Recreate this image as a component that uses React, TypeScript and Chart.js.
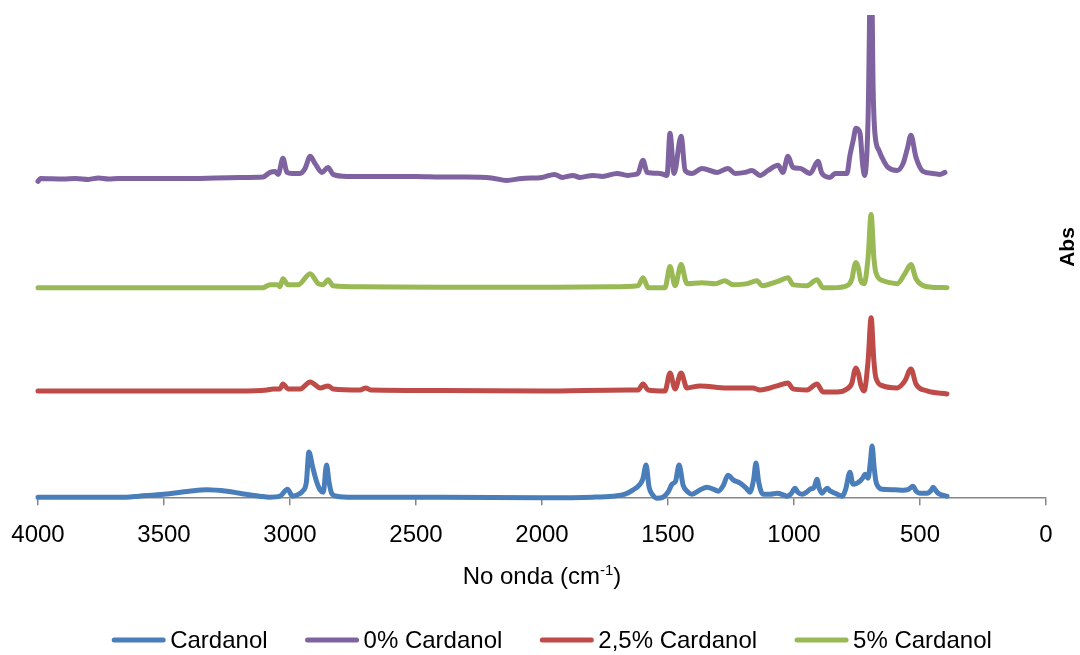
import { useEffect, useRef } from "react";
import { Chart, registerables } from "chart.js";

Chart.register(...registerables);

// ---- Data (wavenumber cm-1, absorbance above each trace's own baseline) ----
const seriesNames = ["Cardanol", "0% Cardanol", "2,5% Cardanol", "5% Cardanol"];
const seriesColors = ["#4A7EBB", "#7F62A0", "#BE4B48", "#98B954"];
const seriesOffsets = [0.01, 3.19, 1.07, 2.1];

const xTickValues = [4000, 3500, 3000, 2500, 2000, 1500, 1000, 500, 0];
const xTickLabels = ["4000", "3500", "3000", "2500", "2000", "1500", "1000", "500", "0"];
const xAxisTitle = "No onda (cm";
const xAxisTitleSup = "-1";
const yAxisTitle = "Abs";

const cardanol: [number, number][] = [
  [4000, 0], [3800, 0], [3650, 0], [3600, 0.01], [3500, 0.03], [3400, 0.06], [3330, 0.075],
  [3250, 0.06], [3190, 0.035], [3120, 0.01], [3080, 0], [3040, 0.01], [3010, 0.08], [2990, 0.01],
  [2965, 0.03], [2950, 0.06], [2935, 0.15], [2925, 0.45], [2910, 0.3], [2895, 0.16], [2880, 0.07],
  [2868, 0.05], [2855, 0.32], [2845, 0.15], [2835, 0.04], [2815, 0.01], [2750, 0], [2400, 0],
  [2000, -0.005], [1800, 0], [1720, 0.01], [1670, 0.03], [1640, 0.07], [1611, 0.13], [1600, 0.18],
  [1587, 0.32], [1575, 0.1], [1560, 0.02], [1545, -0.01], [1520, 0], [1500, 0.05], [1484, 0.13],
  [1470, 0.16], [1456, 0.32], [1440, 0.12], [1420, 0.05], [1405, 0.03], [1375, 0.07], [1345, 0.1],
  [1320, 0.08], [1301, 0.06], [1280, 0.12], [1262, 0.22], [1240, 0.17], [1214, 0.14], [1190, 0.09],
  [1175, 0.05], [1160, 0.18], [1151, 0.34], [1140, 0.15], [1123, 0.03], [1095, 0.03], [1067, 0.04],
  [1040, 0.02], [1028, 0.01], [1010, 0.04], [996, 0.09], [985, 0.05], [968, 0.03], [950, 0.05],
  [936, 0.08], [920, 0.1], [909, 0.18], [900, 0.09], [889, 0.04], [869, 0.09], [855, 0.06],
  [837, 0.04], [820, 0.02], [809, 0.01], [795, 0.08], [778, 0.25], [766, 0.13], [750, 0.14],
  [738, 0.16], [725, 0.2], [718, 0.23], [706, 0.19], [697, 0.35], [690, 0.51], [682, 0.3],
  [675, 0.16], [665, 0.1], [650, 0.08], [600, 0.075], [567, 0.07], [545, 0.08], [528, 0.11],
  [515, 0.06], [500, 0.04], [472, 0.04], [455, 0.07], [448, 0.1], [438, 0.07], [429, 0.04],
  [410, 0.02], [393, 0.01],
];

const pct0: [number, number][] = [
  [4000, -0.03], [3990, 0], [3900, -0.005], [3850, 0], [3800, -0.01], [3760, 0.005], [3720, -0.005],
  [3680, 0], [3600, 0], [3400, 0], [3200, 0.01], [3107, 0.015], [3079, 0.06], [3059, 0.07],
  [3047, 0.04], [3028, 0.2], [3012, 0.06], [2992, 0.05], [2960, 0.05], [2940, 0.1], [2920, 0.22],
  [2901, 0.15], [2873, 0.06], [2849, 0.11], [2829, 0.04], [2774, 0.02], [2722, 0.02], [2600, 0.02],
  [2500, 0.02], [2400, 0.015], [2300, 0.015], [2200, 0.005], [2140, -0.02], [2080, 0], [2000, 0.01],
  [1950, 0.04], [1920, 0.01], [1877, 0.03], [1850, 0.01], [1798, 0.03], [1760, 0.02], [1702, 0.05],
  [1660, 0.03], [1630, 0.04], [1619, 0.05], [1599, 0.18], [1583, 0.06], [1532, 0.05], [1504, 0.03],
  [1492, 0.45], [1476, 0.05], [1448, 0.42], [1432, 0.08], [1405, 0.05], [1365, 0.1], [1305, 0.06],
  [1262, 0.1], [1234, 0.05], [1194, 0.06], [1167, 0.08], [1135, 0.03], [1103, 0.08], [1063, 0.13],
  [1044, 0.06], [1024, 0.22], [1004, 0.11], [976, 0.1], [936, 0.05], [905, 0.17], [889, 0.05],
  [857, 0.01], [837, 0.05], [790, 0.05], [778, 0.23], [765, 0.38], [754, 0.5], [738, 0.45],
  [728, 0.15], [720, 0.03], [706, 0.6], [694, 2.4], [686, 0.9], [679, 0.45], [663, 0.28],
  [643, 0.17], [627, 0.11], [591, 0.08], [567, 0.15], [550, 0.3], [536, 0.43], [516, 0.21],
  [488, 0.07], [448, 0.05], [421, 0.04], [401, 0.06],
];

const pct25: [number, number][] = [
  [4000, 0], [3600, 0], [3300, 0], [3198, 0], [3091, 0.01], [3067, 0.02], [3040, 0.02],
  [3028, 0.07], [3008, 0.02], [2960, 0.02], [2920, 0.09], [2880, 0.03], [2849, 0.05], [2829, 0.02],
  [2722, 0.01], [2700, 0.03], [2680, 0.01], [2400, 0.005], [2000, 0], [1663, 0.01], [1619, 0.01],
  [1599, 0.07], [1579, 0.01], [1512, 0], [1492, 0.18], [1472, 0.02], [1448, 0.18], [1425, 0.03],
  [1373, 0.05], [1266, 0.03], [1163, 0.03], [1135, 0.01], [1067, 0.05], [1024, 0.08], [1004, 0.02],
  [948, 0.01], [909, 0.07], [885, -0.01], [829, -0.01], [790, 0.02], [770, 0.08], [760, 0.2],
  [754, 0.23], [745, 0.18], [735, 0.06], [722, 0], [706, 0.3], [694, 0.73], [683, 0.3], [675, 0.13],
  [647, 0.05], [591, 0.03], [560, 0.1], [536, 0.22], [516, 0.07], [472, 0], [393, -0.03],
];

const pct5: [number, number][] = [
  [4000, 0], [3600, 0], [3300, 0], [3198, 0], [3107, 0], [3079, 0.03], [3047, 0.03], [3040, 0.01],
  [3028, 0.09], [3008, 0.03], [2967, 0.03], [2920, 0.14], [2888, 0.04], [2868, 0.03], [2849, 0.08],
  [2829, 0.02], [2722, 0.01], [2400, 0.005], [1950, 0.005], [1730, 0.01], [1619, 0.02], [1599, 0.1],
  [1579, 0], [1512, 0], [1492, 0.21], [1472, 0.02], [1448, 0.23], [1425, 0.04], [1365, 0.05],
  [1313, 0.04], [1274, 0.07], [1242, 0.03], [1186, 0.04], [1147, 0.07], [1127, 0.02], [1067, 0.06],
  [1024, 0.1], [1004, 0.03], [948, 0.02], [909, 0.08], [885, 0], [845, 0], [790, 0.02], [770, 0.09],
  [760, 0.22], [754, 0.25], [745, 0.2], [735, 0.07], [722, 0.04], [706, 0.3], [694, 0.73],
  [683, 0.3], [675, 0.15], [647, 0.07], [619, 0.05], [591, 0.04], [560, 0.14], [536, 0.23],
  [516, 0.09], [472, 0.01], [393, 0],
];

const seriesData = [cardanol, pct0, pct25, pct5];

const FONT = "'Liberation Sans', Arial, sans-serif";

const textPlugin = {
  id: "extraText",
  afterDraw(chart: any) {
    const ctx = chart.ctx as CanvasRenderingContext2D;
    const area = chart.chartArea;
    ctx.save();
    ctx.fillStyle = "#000";
    // x axis title with superscript
    const mainFont = `24px ${FONT}`;
    const supFont = `15px ${FONT}`;
    ctx.font = mainFont;
    const w1 = ctx.measureText(xAxisTitle).width;
    const w3 = ctx.measureText(")").width;
    ctx.font = supFont;
    const w2 = ctx.measureText(xAxisTitleSup).width;
    const total = w1 + w2 + w3;
    const cx = (area.left + area.right) / 2;
    let x = cx - total / 2;
    const baseY = 584;
    ctx.textBaseline = "alphabetic";
    ctx.textAlign = "left";
    ctx.font = mainFont;
    ctx.fillText(xAxisTitle, x, baseY);
    x += w1;
    ctx.font = supFont;
    ctx.fillText(xAxisTitleSup, x, baseY - 9);
    x += w2;
    ctx.font = mainFont;
    ctx.fillText(")", x, baseY);

    // y axis title, rotated
    ctx.save();
    ctx.translate(1068, 247);
    ctx.rotate(-Math.PI / 2);
    ctx.font = `bold 21px ${FONT}`;
    ctx.textAlign = "center";
    ctx.textBaseline = "middle";
    ctx.fillText(yAxisTitle, 0, 0);
    ctx.restore();

    // legend
    const legendY = 640;
    const lineLen = 53;
    const gapText = 5;
    const gapItem = 38;
    ctx.font = mainFont;
    const widths = chart.data.datasets.map((d: any) => ctx.measureText(d.label).width);
    const totalW = widths.reduce((a: number, w: number) => a + lineLen + gapText + w, 0) + gapItem * (widths.length - 1);
    let lx = 552 - totalW / 2;
    chart.data.datasets.forEach((d: any, i: number) => {
      ctx.strokeStyle = d.borderColor;
      ctx.lineWidth = 5;
      ctx.lineCap = "round";
      ctx.beginPath();
      ctx.moveTo(lx + 2, legendY);
      ctx.lineTo(lx + lineLen - 2, legendY);
      ctx.stroke();
      ctx.fillStyle = "#000";
      ctx.textAlign = "left";
      ctx.textBaseline = "middle";
      ctx.fillText(d.label, lx + lineLen + gapText, legendY + 1);
      lx += lineLen + gapText + widths[i] + gapItem;
    });
    ctx.restore();
  },
};

export default function App() {
  const ref = useRef<HTMLCanvasElement | null>(null);
  useEffect(() => {
    if (!ref.current) return;
    const chart = new Chart(ref.current, {
      type: "line",
      data: {
        datasets: seriesData.map((s, i) => ({
          label: seriesNames[i],
          data: s.map(([wn, a]) => ({ x: wn, y: a + seriesOffsets[i] })),
          borderColor: seriesColors[i],
          backgroundColor: seriesColors[i],
          borderWidth: 5,
          pointRadius: 0,
          fill: false,
          cubicInterpolationMode: "monotone" as const,
          borderCapStyle: "round" as const,
          borderJoinStyle: "round" as const,
          clip: { left: 10, right: 10, top: 0, bottom: 10 } as any,
        })),
      },
      options: {
        animation: false,
        responsive: false,
        layout: { padding: { left: 38, right: 34, top: 15, bottom: 89 } },
        plugins: {
          legend: { display: false },
          tooltip: { enabled: false },
        },
        scales: {
          x: {
            type: "linear",
            min: 0,
            max: 4000,
            reverse: true,
            afterBuildTicks: (scale: any) => {
              scale.ticks = xTickValues.map((v) => ({ value: v }));
            },
            afterFit: (scale: any) => {
              scale.paddingLeft = 0;
              scale.paddingRight = 0;
            },
            ticks: {
              autoSkip: false,
              maxRotation: 0,
              padding: 16,
              color: "#000",
              font: { family: FONT, size: 24 },
              callback: (v: any) => xTickLabels[xTickValues.indexOf(Number(v))],
            },
            grid: {
              drawOnChartArea: false,
              drawTicks: true,
              tickLength: 7,
              color: "#868686",
              lineWidth: 1.5,
            },
            border: { display: true, color: "#868686", width: 1.5 },
          },
          y: { display: false, min: 0, max: 4.82 },
        },
      },
      plugins: [textPlugin],
    });
    return () => chart.destroy();
  }, []);
  return (
    <div style={{ position: "fixed", left: 0, top: 0, width: 1080, height: 655, background: "#fff" }}>
      <canvas ref={ref} width={1080} height={655} style={{ width: 1080, height: 655, display: "block" }} />
    </div>
  );
}
